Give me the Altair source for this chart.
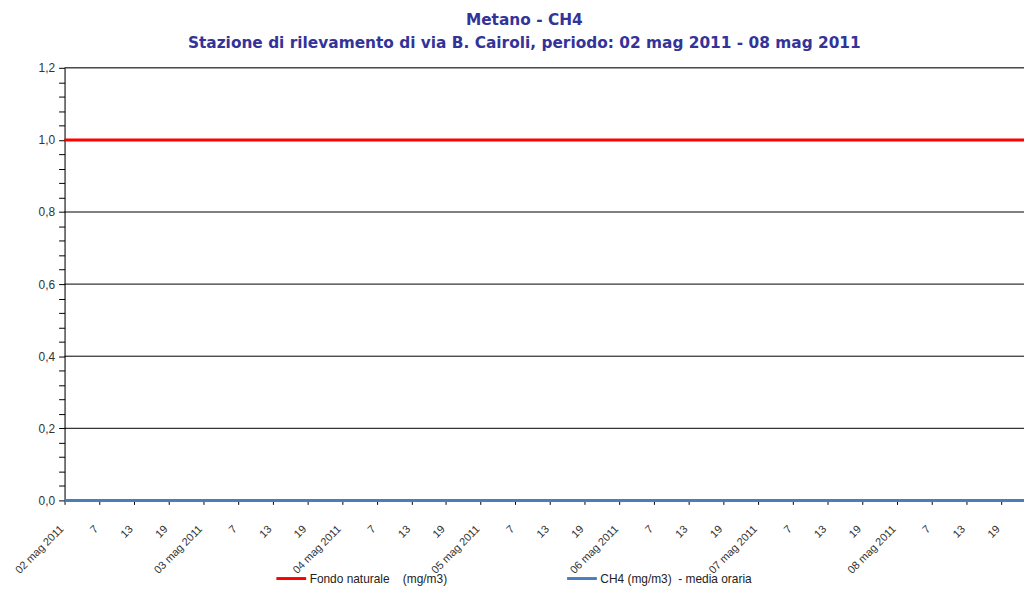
import altair as alt
import pandas as pd

# ---- data ----
days = ["02 mag 2011", "03 mag 2011", "04 mag 2011", "05 mag 2011",
        "06 mag 2011", "07 mag 2011", "08 mag 2011"]
hours = list(range(0, 168))                 # hourly index (hour 1..24 of each day)
fondo_values = [1.0] * 168                  # Fondo naturale (mg/m3)
ch4_values = [0.0] * 168                    # CH4 (mg/m3) - media oraria
grid_levels = [0.2, 0.4, 0.6, 0.8, 1.0, 1.2]
y_ticks = [round(i * 0.04, 2) for i in range(0, 31)]
x_ticks = list(range(0, 168, 6))

NB = "\u00a0"
s1 = "Fondo" + NB + "naturale" + NB * 4 + "(mg/m3)"
s2 = "CH4" + NB + "(mg/m3)" + NB * 2 + "-" + NB + "media" + NB + "oraria"

df = pd.DataFrame({
    "h": hours * 2,
    "v": fondo_values + ch4_values,
    "serie": [s1] * 168 + [s2] * 168,
})
grid_df = pd.DataFrame({"y": grid_levels})

day_arr = "[" + ",".join("'%s'" % d for d in days) + "]"
x_label_expr = ("datum.value % 24 == 0 ? " + day_arr +
                "[floor(datum.value / 24)] : '' + (datum.value % 24 + 1)")
y_label_expr = ("round(datum.value * 100) % 20 == 0 ? "
                "replace(format(datum.value, '.1f'), '.', ',') : ''")

x_scale = alt.Scale(domain=[0, 166], nice=False, zero=False)
y_scale = alt.Scale(domain=[0, 1.2], nice=False)

grid = alt.Chart(grid_df).mark_rule(color="black", strokeWidth=1).encode(
    y=alt.Y("y:Q", scale=y_scale),
)

lines = alt.Chart(df).mark_line(strokeWidth=3).encode(
    x=alt.X("h:Q", scale=x_scale, title=None,
            axis=alt.Axis(values=x_ticks, tickCount=len(x_ticks), labelExpr=x_label_expr,
                          labelAngle=-45, labelAlign="right", labelBaseline="middle",
                          labelFontSize=11, labelColor="#333333", labelFont="Liberation Sans",
                          tickColor="black", tickSize=4, domainColor="black",
                          labelPadding=23, labelOffset=-3, grid=False, labelOverlap=False)),
    y=alt.Y("v:Q", scale=y_scale, title=None,
            axis=alt.Axis(values=y_ticks, tickCount=len(y_ticks), labelExpr=y_label_expr,
                          grid=False, labelFontSize=12, labelColor="#333333",
                          labelFont="Liberation Sans",
                          tickColor="black", tickSize=6, domainColor="black",
                          labelPadding=4, labelOverlap=False)),
    color=alt.Color("serie:N",
                    scale=alt.Scale(domain=[s1, s2], range=["#ff0000", "#4a7ebb"]),
                    legend=alt.Legend(orient="none", legendX=212, legendY=498,
                                      direction="horizontal", title=None,
                                      symbolType="stroke", symbolSize=900,
                                      symbolStrokeWidth=3, labelFontSize=12,
                                      labelFont="Liberation Sans", labelColor="#222222",
                                      columnPadding=114, labelOffset=2, padding=0,
                                      labelLimit=300)),
)

chart = alt.layer(grid, lines).properties(
    width=967, height=436,
    autosize=alt.AutoSizeParams(type="none"),
    padding={"left": 57, "top": 58, "right": 0, "bottom": 85},
    title=alt.Title(["Metano - CH4",
                     "Stazione di rilevamento di via B. Cairoli, periodo: 02 mag 2011 - 08 mag 2011"],
                    anchor="middle", frame="bounds", fontSize=15.5, font="DejaVu Sans",
                    fontWeight="bold", color="#333399", offset=10, lineHeight=24),
).configure_view(stroke=None).configure(background="white")

chart.save("out.html", embed_options={"renderer": "svg", "actions": False})
